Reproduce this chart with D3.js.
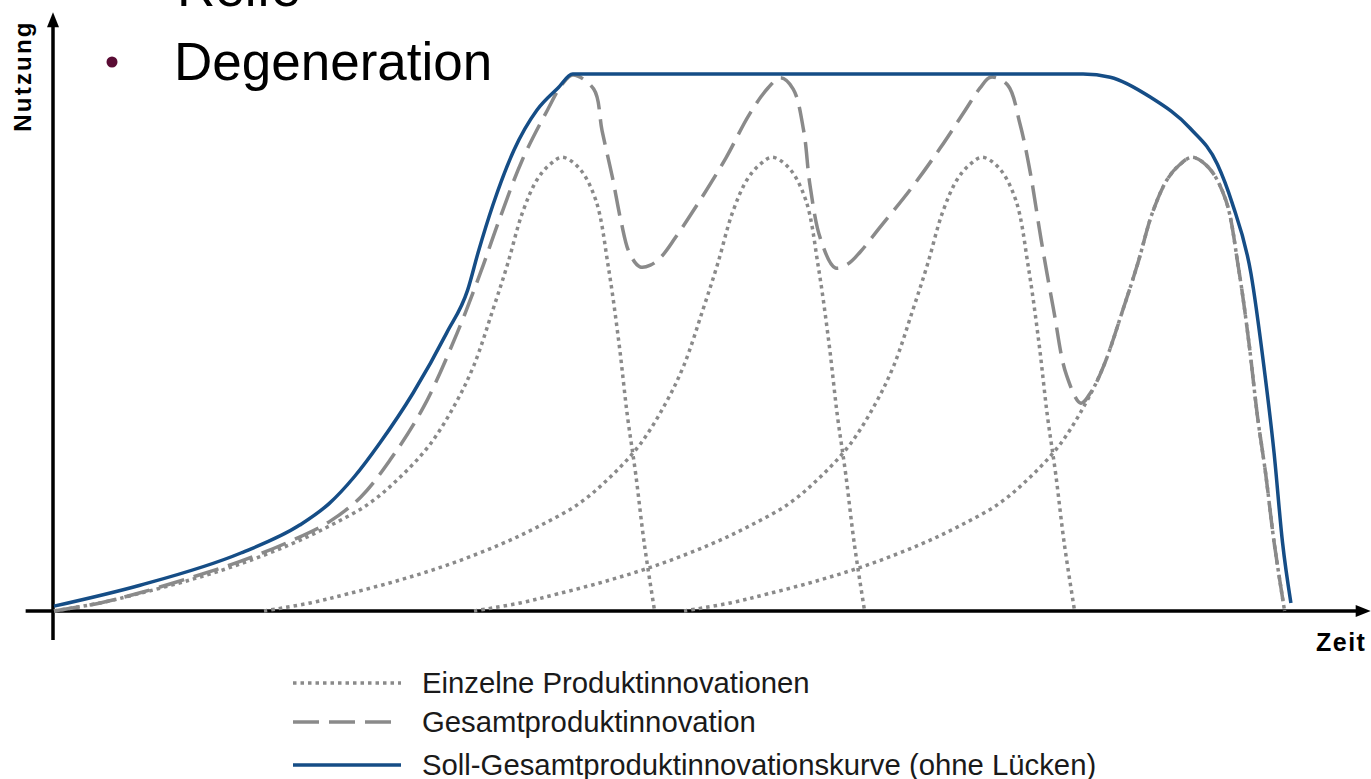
<!DOCTYPE html>
<html>
<head>
<meta charset="utf-8">
<script src="https://cdn.jsdelivr.net/npm/d3@7"></script>
<style>
  html, body { margin: 0; padding: 0; background: #fff; }
  svg { display: block; }
</style>
</head>
<body>
<svg id="chart" width="1371" height="779"></svg>
<script>
// ---------- DATA (time units, Nutzung 0..100 = plateau) ----------
const einzel1T = [0, 2.2, 4.0, 6.5, 8.9, 11.2, 13.1, 15.0, 16.5, 17.9, 19.1, 20.0, 20.9, 21.6, 22.3, 23.0, 23.6, 24.2, 25.0, 25.8, 26.4, 26.9, 27.3, 27.7, 28.1, 28.6];
const einzel1V = [0, 1.5, 3.2, 5.8, 8.8, 12.3, 15.8, 20.0, 25.0, 31.0, 38.5, 45.8, 56.1, 64.6, 74.1, 80.3, 83.1, 84.5, 82.5, 76.5, 64.0, 50.0, 36.5, 25.5, 12.8, 0];
const einzel2T = [10, 12.2, 14.0, 16.5, 18.9, 21.2, 23.1, 25.0, 26.5, 27.9, 29.1, 30.0, 30.9, 31.6, 32.3, 33.0, 33.6, 34.2, 35.0, 35.8, 36.4, 36.9, 37.3, 37.7, 38.1, 38.6];
const einzel2V = [0, 1.5, 3.2, 5.8, 8.8, 12.3, 15.8, 20.0, 25.0, 31.0, 38.5, 45.8, 56.1, 64.6, 74.1, 80.3, 83.1, 84.5, 82.5, 76.5, 64.0, 50.0, 36.5, 25.5, 12.8, 0];
const einzel3T = [20, 22.2, 24.0, 26.5, 28.9, 31.2, 33.1, 35.0, 36.5, 37.9, 39.1, 40.0, 40.9, 41.6, 42.3, 43.0, 43.6, 44.2, 45.0, 45.8, 46.4, 46.9, 47.3, 47.7, 48.1, 48.6];
const einzel3V = [0, 1.5, 3.2, 5.8, 8.8, 12.3, 15.8, 20.0, 25.0, 31.0, 38.5, 45.8, 56.1, 64.6, 74.1, 80.3, 83.1, 84.5, 82.5, 76.5, 64.0, 50.0, 36.5, 25.5, 12.8, 0];
const einzel4T = [30, 32.2, 34.0, 36.5, 38.9, 41.2, 43.1, 45.0, 46.5, 47.9, 49.1, 50.0, 50.9, 51.6, 52.3, 53.0, 53.6, 54.2, 55.0, 55.8, 56.4, 56.9, 57.3, 57.7, 58.1, 58.6];
const einzel4V = [0, 1.5, 3.2, 5.8, 8.8, 12.3, 15.8, 20.0, 25.0, 31.0, 38.5, 45.8, 56.1, 64.6, 74.1, 80.3, 83.1, 84.5, 82.5, 76.5, 64.0, 50.0, 36.5, 25.5, 12.8, 0];

const gesamtT = [0, 2.2, 4.1, 6.5, 8.9, 11.2, 13.1, 14.6, 16.0, 17.6, 19.2, 20.3, 21.2, 22.3, 23.5, 24.2, 24.7, 25.7, 26.1, 26.6, 27.0, 27.4, 27.9, 28.4, 28.9, 29.6, 30.8, 32.0, 33.1, 34.0, 34.6, 35.2, 35.7, 36.0, 36.5, 37.2, 37.8, 38.4, 39.3, 40.8, 42.2, 43.4, 44.1, 44.6, 45.4, 46.0, 46.5, 47.0, 47.6, 48.2, 48.9, 49.4, 50.0, 50.9, 51.6, 52.3, 53.0, 53.6, 54.2, 55.0, 55.8, 56.4, 56.9, 57.3, 57.7, 58.1, 58.6];
const gesamtV = [0, 1.5, 3.4, 6.2, 9.3, 12.9, 16.6, 21.2, 28.1, 38.0, 51.8, 62.9, 72.8, 84.0, 93.3, 98.1, 99.8, 97.2, 89.4, 80.6, 72.6, 66.7, 64.1, 64.4, 65.9, 69.6, 76.7, 84.4, 92.4, 97.4, 99.3, 97.2, 89.4, 79.3, 69.3, 63.9, 64.6, 66.9, 71.3, 78.6, 86.2, 93.3, 97.4, 99.4, 98.0, 90.7, 81.4, 69.3, 56.1, 44.1, 38.7, 40.9, 45.8, 56.1, 64.6, 74.1, 80.3, 83.1, 84.5, 82.5, 76.5, 64.0, 50.0, 36.5, 25.5, 12.8, 0];

const sollT = [0, 4.1, 8.9, 11.7, 13.1, 14.3, 15.5, 17.1, 18.7, 19.7, 20.2, 20.9, 21.9, 23.0, 24.0, 24.7, 36.0, 49.0, 50.3, 52.2, 54.1, 55.4, 56.1, 57.0, 57.6, 58.1, 58.5, 58.9];
const sollV = [0.9, 4.8, 10.8, 16.0, 20.0, 25.0, 31.2, 40.6, 51.8, 59.8, 66.8, 75.6, 85.8, 93.3, 97.4, 100, 100, 100, 99.4, 95.7, 89.9, 83.2, 76.0, 62.8, 46.0, 29.4, 12.8, 1.5];

const legendLabels = ["Einzelne Produktinnovationen", "Gesamtproduktinnovation", "Soll-Gesamtproduktinnovationskurve (ohne Lücken)"];
const axisLabels = { y: "Nutzung", x: "Zeit" };
const slideLines = ["Reife", "Degeneration"];

// ---------- SCALES ----------
const svg = d3.select("#chart");
svg.append("rect").attr("width", 1371).attr("height", 779).attr("fill", "#fff");

const x = d3.scaleLinear().domain([0, 60]).range([54, 54 + 60 * 21]);
const y = d3.scaleLinear().domain([0, 100]).range([611, 74]);

const smooth = d3.line().x(d => x(d[0])).y(d => y(Math.max(0, d[1]))).curve(d3.curveCatmullRom.alpha(0.5));
const mono = d3.line().x(d => x(d[0])).y(d => y(d[1])).curve(d3.curveMonotoneX);
const zip = (T, V) => T.map((t, i) => [t, V[i]]);

const grey = "#8a8a8a";
const blue = "#154d86";

// ---------- AXES ----------
const ax = svg.append("g");
ax.append("line").attr("x1", x(-1.35)).attr("x2", x(62.2)).attr("y1", y(0)).attr("y2", y(0))
  .attr("stroke", "#000").attr("stroke-width", 3.5);
ax.append("path").attr("d", `M${x(62.7)},${y(0)} L${x(62.7) - 15},${y(0) - 6} L${x(62.7) - 15},${y(0) + 6} Z`).attr("fill", "#000");
ax.append("line").attr("x1", x(0) - 1).attr("x2", x(0) - 1).attr("y1", y(-5.4)).attr("y2", y(109))
  .attr("stroke", "#000").attr("stroke-width", 3.5);
ax.append("path").attr("d", `M${x(0) - 1},${y(111.5)} L${x(0) - 7},${y(111.5) + 15} L${x(0) + 5},${y(111.5) + 15} Z`).attr("fill", "#000");

// ---------- CURVES ----------
const g = svg.append("g");
[[einzel1T, einzel1V], [einzel2T, einzel2V], [einzel3T, einzel3V], [einzel4T, einzel4V]].forEach(([T, V]) => {
  g.append("path").attr("d", smooth(zip(T, V))).attr("fill", "none")
    .attr("stroke", grey).attr("stroke-width", 3.5).attr("stroke-dasharray", "3.5,4");
});
g.append("path").attr("d", smooth(zip(gesamtT, gesamtV))).attr("fill", "none")
  .attr("stroke", grey).attr("stroke-width", 3.5).attr("stroke-dasharray", "26,10");
g.append("path").attr("d", mono(zip(sollT, sollV))).attr("fill", "none")
  .attr("stroke", blue).attr("stroke-width", 3.5);

// ---------- AXIS LABELS ----------
svg.append("text").attr("transform", "translate(31,76) rotate(-90)")
  .attr("text-anchor", "middle").attr("font-family", "Liberation Sans, Arial, sans-serif")
  .attr("font-weight", "bold").attr("font-size", 24).attr("letter-spacing", 2.2)
  .attr("fill", "#000").text(axisLabels.y);
svg.append("text").attr("x", 1316).attr("y", 651)
  .attr("font-family", "Liberation Sans, Arial, sans-serif")
  .attr("font-weight", "bold").attr("font-size", 25).attr("letter-spacing", 1.5)
  .attr("fill", "#000").text(axisLabels.x);

// ---------- LEGEND ----------
const lg = svg.append("g");
const legY = [683, 722, 765];
const legStyles = [
  { stroke: grey, w: 3.5, dash: "3.5,4" },
  { stroke: grey, w: 3.5, dash: "26,10" },
  { stroke: blue, w: 3.5, dash: null }
];
legendLabels.forEach((lab, i) => {
  const s = legStyles[i];
  const l = lg.append("line").attr("x1", 293).attr("x2", 401).attr("y1", legY[i]).attr("y2", legY[i])
    .attr("stroke", s.stroke).attr("stroke-width", s.w);
  if (s.dash) l.attr("stroke-dasharray", s.dash);
  lg.append("text").attr("x", 422).attr("y", legY[i] + 9.5)
    .attr("font-family", "Liberation Sans, Arial, sans-serif").attr("font-size", 29.3)
    .attr("fill", "#1a1a1a").text(lab);
});

// ---------- SLIDE OVERLAY TEXT ----------
svg.append("text").attr("x", 177).attr("y", 6)
  .attr("font-family", "Liberation Sans, Arial, sans-serif").attr("font-size", 53)
  .attr("fill", "#000").text(slideLines[0]);
svg.append("circle").attr("cx", 112).attr("cy", 62).attr("r", 5.5).attr("fill", "#5a0c34");
svg.append("text").attr("x", 174).attr("y", 80)
  .attr("font-family", "Liberation Sans, Arial, sans-serif").attr("font-size", 53)
  .attr("fill", "#000").text(slideLines[1]);
</script>
</body>
</html>
